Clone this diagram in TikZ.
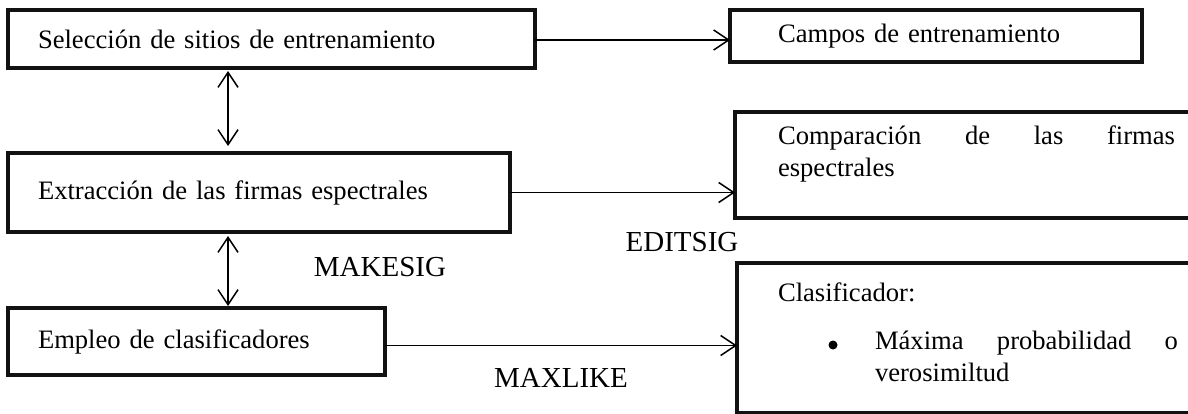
\documentclass[tikz,border=0pt]{standalone}
\usepackage{fontspec}
\setmainfont{Liberation Serif}
\usetikzlibrary{arrows.meta}
\hyphenpenalty=10000
\exhyphenpenalty=10000

\begin{document}
\begin{tikzpicture}[x=1pt,y=-1pt,
  every node/.style={font=\fontsize{26.6}{32}\selectfont, outer sep=0pt},
  lbl/.style={font=\fontsize{29}{32}\selectfont},
  stepbox/.style={draw=black!93, line width=4pt, rectangle, anchor=north west,
                  align=left, inner ysep=0pt},
  txt/.style={inner sep=0pt, anchor=west},
  flow/.style={line width=1.5pt, -{Straight Barb[length=15pt,width=20pt]}},
  dbl/.style={line width=1.5pt, {Straight Barb[length=15pt,width=20pt]}-{Straight Barb[length=15pt,width=20pt]}}
]
\useasboundingbox (0,0) rectangle (1188,414);
\clip (0,0) rectangle (1188,414);

% left column of process boxes
\node[stepbox, minimum width=527pt, minimum height=58pt, inner xsep=30pt, text width=467pt]
  (sel) at (8,10) {Selección de sitios de entrenamiento};
\node[stepbox, minimum width=502pt, minimum height=79pt, inner xsep=30pt, text width=442pt]
  (ext) at (8,153) {Extracción de las firmas espectrales};
\node[stepbox, minimum width=377pt, minimum height=67pt, inner xsep=30pt, text width=317pt]
  (emp) at (8,308) {\raisebox{-2pt}{Empleo de clasificadores}};

% right column of result boxes
\node[stepbox, minimum width=412pt, minimum height=52pt, inner xsep=48pt, text width=316pt]
  (cam) at (730,10) {Campos de entrenamiento};
\node[stepbox, minimum width=470pt, minimum height=106pt] (com) at (735,112) {};
\node[txt, anchor=north west, text width=397pt, align=justify]
  (comtxt) at (778,126) {Comparación de las firmas espectrales};
\node[stepbox, minimum width=470pt, minimum height=150pt] (cla) at (737,263) {};
\node[txt] (clatit) at (778,292) {Clasificador:};
\node[circle, fill=black, inner sep=0pt, minimum size=9pt] (bul) at (833,345) {};
\node[txt, anchor=north west, text width=303pt, align=justify]
  (clatxt) at (875,331) {Máxima probabilidad o verosimiltud};

% program names
\node[lbl] (mks) at (380,267) {MAKESIG};
\node[lbl] (eds) at (682,242) {EDITSIG};
\node[lbl] (mxl) at (561,378) {MAXLIKE};

% connectors
\coordinate (ax) at (228,0);
\draw[dbl, shorten <=3pt, shorten >=7pt] (sel.south -| ax) -- (ext.north -| ax);
\draw[dbl, shorten <=4pt, shorten >=2pt] (ext.south -| ax) -- (emp.north -| ax);

\draw[flow] ([yshift=-1pt]sel.east) -- ([yshift=-1pt]sel.east -| cam.west);
\draw[flow] (ext.east) -- (ext.east -| com.west);
\draw[flow] ([yshift=-4pt]emp.east) -- ([yshift=-4pt]emp.east -| cla.west);
\end{tikzpicture}
\end{document}
